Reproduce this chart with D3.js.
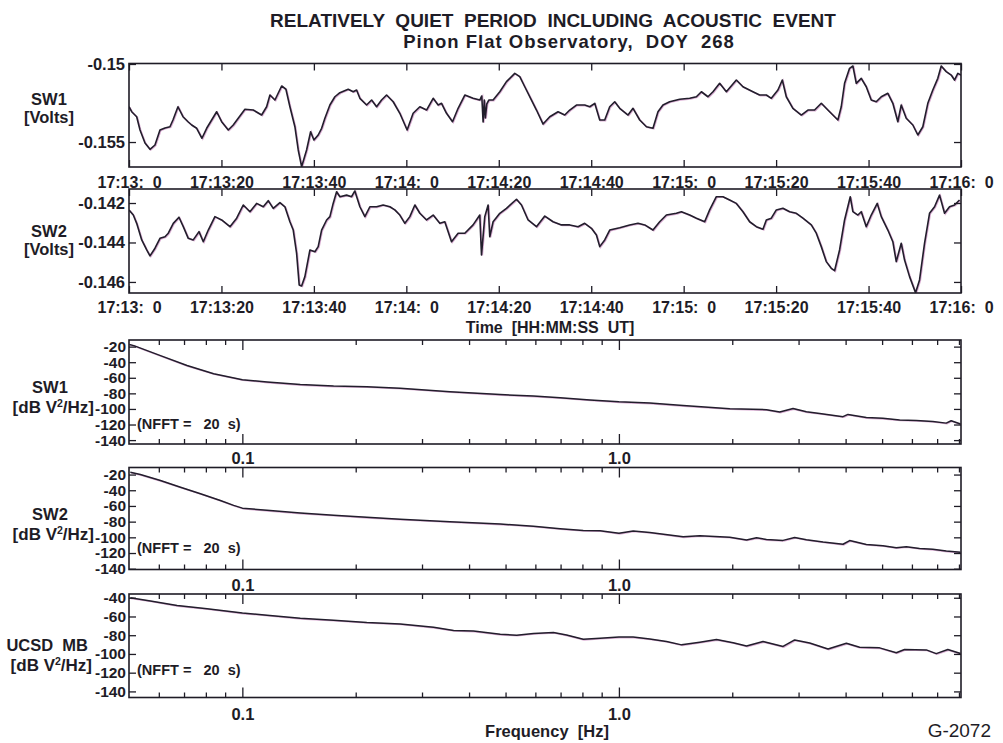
<!DOCTYPE html>
<html>
<head>
<meta charset="utf-8">
<script src="https://cdn.jsdelivr.net/npm/d3@7"></script>
<style>
  body { margin: 0; background: #fff; }
  svg text { font-family: "Liberation Sans", Arial, Helvetica, sans-serif; white-space: pre; }
</style>
</head>
<body>
<svg id="chart" width="1003" height="743"></svg>
<script>
// ---- Time axis (seconds after 17:13:00 UT) ----
const timeTickSec = [0, 20, 40, 60, 80, 100, 120, 140, 160, 180];
const timeTickLabels = ["17:13:  0", "17:13:20", "17:13:40", "17:14:  0", "17:14:20",
                        "17:14:40", "17:15:  0", "17:15:20", "17:15:40", "17:16:  0"];

// ---- SW1 strainmeter output [s, V] ----
const sw1Trace = [
  [0,-0.15274],[0.58,-0.15306],[1.66,-0.15338],[2.38,-0.15423],[3.46,-0.15506],[4.54,-0.15547],
  [5.62,-0.15519],[6.70,-0.15423],[7.78,-0.15410],[8.86,-0.15402],[9.51,-0.15359],[10.59,-0.15274],
  [11.68,-0.15338],[12.76,-0.15370],[13.56,-0.15391],[14.64,-0.15412],[15.78,-0.15476],[16.80,-0.15412],
  [17.88,-0.15359],[18.96,-0.15306],[20.04,-0.15370],[21.47,-0.15423],[22.55,-0.15391],[23.63,-0.15348],
  [25.08,-0.15290],[26.88,-0.15295],[28.69,-0.15327],[29.77,-0.15274],[30.49,-0.15199],[31.57,-0.15231],
  [33.02,-0.15141],[33.95,-0.15162],[34.81,-0.15274],[35.89,-0.15402],[36.61,-0.15551],[37.34,-0.15658],
  [38.42,-0.15551],[39.29,-0.15434],[40.00,-0.15487],[40.93,-0.15455],[41.67,-0.15412],[42.38,-0.15348],
  [43.46,-0.15263],[44.54,-0.15210],[45.62,-0.15184],[47.42,-0.15162],[48.50,-0.15178],[49.23,-0.15167],
  [49.95,-0.15220],[51.40,-0.15263],[52.48,-0.15231],[53.56,-0.15274],[54.64,-0.15231],[55.72,-0.15199],
  [57.15,-0.15242],[58.59,-0.15316],[60.17,-0.15423],[61.47,-0.15316],[62.92,-0.15274],[64.37,-0.15295],
  [65.80,-0.15220],[66.88,-0.15263],[67.61,-0.15252],[68.69,-0.15316],[69.99,-0.15370],[71.20,-0.15284],
  [72.65,-0.15199],[74.44,-0.15220],[75.89,-0.15231],[76.32,-0.15205],[76.61,-0.15372],[76.87,-0.15231],
  [77.09,-0.15346],[77.41,-0.15256],[77.84,-0.15231],[78.77,-0.15231],[80.22,-0.15178],[81.66,-0.15113],
  [83.46,-0.15060],[84.54,-0.15081],[85.62,-0.15146],[87.07,-0.15231],[88.15,-0.15295],[89.58,-0.15385],
  [91.03,-0.15338],[92.82,-0.15306],[94.27,-0.15327],[95.35,-0.15295],[96.80,-0.15263],[98.59,-0.15263],
  [99.68,-0.15274],[100.76,-0.15252],[101.84,-0.15359],[102.92,-0.15359],[104.00,-0.15274],[105.08,-0.15242],
  [106.16,-0.15284],[107.96,-0.15327],[109.04,-0.15284],[110.49,-0.15359],[111.94,-0.15402],[113.36,-0.15412],
  [114.44,-0.15306],[115.52,-0.15263],[116.97,-0.15242],[119.13,-0.15226],[121.30,-0.15220],[122.75,-0.15210],
  [123.83,-0.15178],[125.25,-0.15210],[126.34,-0.15178],[127.78,-0.15124],[129.23,-0.15178],[131.39,-0.15103],
  [132.82,-0.15146],[134.98,-0.15178],[136.43,-0.15199],[137.88,-0.15199],[138.96,-0.15220],[140.39,-0.15167],
  [141.34,-0.15103],[142.20,-0.15210],[143.63,-0.15284],[145.45,-0.15327],[146.88,-0.15295],[148.32,-0.15295],
  [149.77,-0.15252],[151.20,-0.15295],[152.28,-0.15327],[153.36,-0.15359],[154.09,-0.15274],[154.81,-0.15124],
  [155.89,-0.15028],[156.61,-0.15013],[157.34,-0.15124],[158.42,-0.15092],[159.50,-0.15146],[160.58,-0.15231],
  [161.66,-0.15242],[162.75,-0.15210],[164.17,-0.15188],[165.25,-0.15252],[166.33,-0.15370],[167.07,-0.15263],
  [168.15,-0.15348],[169.58,-0.15391],[170.66,-0.15455],[171.74,-0.15402],[172.82,-0.15252],[173.90,-0.15167],
  [174.98,-0.15092],[175.72,-0.15013],[176.80,-0.15049],[177.88,-0.15071],[178.59,-0.15103],[179.31,-0.15060],
  [180,-0.15071]
];

// ---- SW2 strainmeter output [s, V] ----
const sw2Trace = [
  [0,-0.14235],[0.93,-0.14261],[1.66,-0.14303],[2.75,-0.14387],[3.83,-0.14438],[4.54,-0.14468],
  [5.62,-0.14429],[6.70,-0.14379],[7.78,-0.14371],[8.50,-0.14353],[9.58,-0.14303],[10.81,-0.14272],
  [11.74,-0.14320],[12.82,-0.14379],[13.90,-0.14387],[15.14,-0.14345],[16.07,-0.14396],[17.15,-0.14337],
  [18.59,-0.14269],[20.04,-0.14286],[21.84,-0.14320],[23.29,-0.14277],[24.71,-0.14210],[26.16,-0.14244],
  [27.61,-0.14202],[29.04,-0.14219],[30.12,-0.14188],[31.20,-0.14227],[32.65,-0.14198],[33.73,-0.14219],
  [34.81,-0.14295],[35.53,-0.14337],[36.26,-0.14455],[36.82,-0.14615],[37.34,-0.14620],[38.05,-0.14573],
  [39.14,-0.14438],[40.22,-0.14447],[40.93,-0.14421],[41.67,-0.14337],[42.75,-0.14286],[43.46,-0.14269],
  [44.17,-0.14202],[44.91,-0.14143],[45.62,-0.14168],[47.07,-0.14160],[48.15,-0.14168],[48.86,-0.14139],
  [49.95,-0.14219],[51.03,-0.14269],[52.11,-0.14219],[53.56,-0.14219],[54.98,-0.14210],[56.43,-0.14219],
  [57.51,-0.14235],[58.59,-0.14261],[59.68,-0.14303],[60.76,-0.14269],[61.84,-0.14210],[62.92,-0.14252],
  [64.37,-0.14286],[65.80,-0.14261],[67.24,-0.14303],[68.32,-0.14295],[69.77,-0.14396],[71.20,-0.14353],
  [72.65,-0.14353],[74.44,-0.14311],[75.89,-0.14261],[76.26,-0.14463],[76.97,-0.14269],[77.69,-0.14210],
  [78.05,-0.14371],[78.77,-0.14295],[80.22,-0.14252],[81.66,-0.14227],[83.83,-0.14181],[84.91,-0.14210],
  [86.34,-0.14286],[88.15,-0.14320],[89.95,-0.14266],[91.74,-0.14295],[93.56,-0.14311],[95.35,-0.14311],
  [97.15,-0.14320],[98.59,-0.14303],[100.04,-0.14328],[101.12,-0.14362],[101.84,-0.14421],[102.92,-0.14387],
  [104.00,-0.14337],[106.16,-0.14325],[108.32,-0.14311],[110.12,-0.14303],[111.57,-0.14311],[113.36,-0.14337],
  [114.81,-0.14295],[116.26,-0.14261],[118.42,-0.14252],[119.50,-0.14244],[121.30,-0.14261],[122.75,-0.14277],
  [124.54,-0.14295],[125.62,-0.14235],[127.07,-0.14168],[128.50,-0.14168],[129.95,-0.14185],[131.39,-0.14202],
  [132.82,-0.14244],[134.27,-0.14295],[135.72,-0.14320],[137.15,-0.14333],[137.88,-0.14286],[138.96,-0.14277],
  [140.04,-0.14235],[141.47,-0.14227],[142.92,-0.14244],[144.37,-0.14252],[145.80,-0.14277],[147.61,-0.14311],
  [148.69,-0.14353],[149.77,-0.14421],[150.85,-0.14497],[151.93,-0.14531],[152.65,-0.14543],[153.73,-0.14438],
  [154.81,-0.14286],[156.04,-0.14168],[156.61,-0.14244],[157.69,-0.14261],[158.42,-0.14244],[159.50,-0.14320],
  [160.58,-0.14261],[161.88,-0.14202],[162.75,-0.14269],[164.17,-0.14337],[165.25,-0.14396],[165.99,-0.14497],
  [167.07,-0.14404],[167.79,-0.14489],[168.87,-0.14573],[170.17,-0.14655],[171.03,-0.14590],[172.11,-0.14404],
  [173.19,-0.14252],[174.28,-0.14219],[175.36,-0.14160],[176.44,-0.14252],[177.52,-0.14219],[178.60,-0.14210],
  [179.68,-0.14185]
];

const sw1VoltTicks = [-0.15, -0.155];
const sw1VoltLabels = ["-0.15", "-0.155"];
const sw2VoltTicks = [-0.142, -0.144, -0.146];
const sw2VoltLabels = ["-0.142", "-0.144", "-0.146"];

// ---- Power spectra [Hz, dB V^2/Hz], NFFT = 20 s ----
const sw1Spectrum = [
  [0.0501,-17.4],[0.0515,-18.7],[0.0606,-31.5],[0.0713,-44.3],[0.0839,-54.8],[0.100,-62.4],
  [0.1163,-65.4],[0.1425,-68.6],[0.1747,-70.7],[0.214,-71.4],[0.2625,-73.3],[0.356,-77.9],
  [0.484,-81.5],[0.593,-83.5],[0.698,-85.5],[0.838,-88.4],[1.0,-90.8],[1.208,-92.4],
  [1.481,-95.7],[1.970,-99.7],[2.465,-100.9],[2.673,-103.9],[2.900,-99.5],[3.147,-103.7],
  [3.414,-105.8],[3.936,-109.9],[4.057,-107.0],[4.540,-111.1],[5.024,-112.0],[5.565,-114.1],
  [6.163,-114.8],[6.819,-116.0],[7.399,-118.2],[7.628,-115.1],[8.075,-119.4]
];
const sw2Spectrum = [
  [0.0504,-17.0],[0.0536,-20.0],[0.0606,-27.6],[0.0685,-36.1],[0.0774,-44.4],[0.0874,-53.0],
  [0.0948,-59.3],[0.100,-62.8],[0.1163,-65.6],[0.1425,-69.0],[0.1747,-71.8],[0.214,-74.5],
  [0.2625,-76.9],[0.356,-80.0],[0.484,-83.0],[0.593,-85.8],[0.698,-89.0],[0.804,-91.2],
  [0.891,-91.5],[1.0,-94.8],[1.091,-91.8],[1.208,-93.8],[1.481,-99.3],[1.640,-97.9],
  [1.970,-99.8],[2.182,-103.3],[2.319,-100.6],[2.465,-102.8],[2.728,-103.9],[2.929,-100.1],
  [3.147,-103.0],[3.483,-105.9],[3.936,-108.8],[4.100,-104.1],[4.540,-109.1],[5.024,-110.7],
  [5.452,-113.2],[5.797,-111.9],[6.286,-114.1],[6.819,-115.2],[7.399,-117.4],[8.075,-119.0]
];
const ucsdSpectrum = [
  [0.0504,-40.0],[0.0570,-43.4],[0.0671,-48.3],[0.0806,-51.7],[0.100,-56.3],[0.1163,-58.6],
  [0.1425,-62.0],[0.1747,-64.0],[0.214,-66.4],[0.2625,-68.0],[0.322,-71.5],[0.364,-74.9],
  [0.411,-75.6],[0.484,-79.0],[0.535,-80.0],[0.593,-78.1],[0.670,-77.0],[0.726,-79.8],
  [0.804,-84.3],[0.891,-83.2],[1.0,-82.0],[1.091,-82.0],[1.208,-84.0],[1.338,-86.6],
  [1.467,-90.3],[1.640,-87.4],[1.816,-84.6],[2.010,-88.0],[2.182,-91.6],[2.414,-86.8],
  [2.728,-92.0],[2.929,-85.0],[3.211,-88.4],[3.592,-94.8],[4.018,-88.6],[4.358,-92.9],
  [4.923,-93.5],[5.452,-98.7],[5.735,-95.2],[6.551,-95.7],[6.961,-99.7],[7.472,-95.3],
  [8.075,-99.6]
];

const freqMinorTicks = [0.06, 0.07, 0.08, 0.09, 0.2, 0.3, 0.4, 0.5, 0.6, 0.7, 0.8, 0.9,
                        2, 3, 4, 5, 6, 7, 8];
const freqMajorTicks = [0.1, 1.0];
const freqMajorLabels = ["0.1", "1.0"];
const dbTicks20 = [-20, -40, -60, -80, -100, -120, -140];
const dbTicks40 = [-40, -60, -80, -100, -120, -140];

// ---- Drawing ----
const svg = d3.select("#chart");
const INK = "#1e1c26";
const TRACE = "#221e2c";
const TINT = "#b45aa6";
const X0 = 129, X1 = 961;

const timeX = d3.scaleLinear().domain([0, 180]).range([X0, X1]);
const freqX = d3.scaleLog().domain([0.05, 8.1]).range([X0, X1]);

svg.append("rect").attr("width", 1003).attr("height", 743).attr("fill", "#fff");

function addAxis(g, axis, tx, ty, size) {
  const a = g.append("g").attr("transform", `translate(${tx},${ty})`).call(axis);
  a.select(".domain").remove();
  a.attr("font-family", null).attr("font-size", size).attr("font-weight", "bold").attr("color", INK);
  a.selectAll(".tick line").attr("stroke-width", 1.3);
  return a;
}

let clipId = 0;
function drawTrace(g, data, x, y, top, bottom, width) {
  const id = "clip" + (clipId++);
  svg.append("clipPath").attr("id", id).append("rect")
    .attr("x", X0).attr("y", top).attr("width", X1 - X0).attr("height", bottom - top);
  const line = d3.line().x(d => x(d[0])).y(d => y(d[1]));
  const lg = g.append("g").attr("clip-path", `url(#${id})`);
  lg.append("path").datum(data).attr("d", line)
    .attr("fill", "none").attr("stroke", TINT).attr("stroke-width", 1.6).attr("opacity", 0.5)
    .attr("transform", "translate(0.8,0.6)");
  lg.append("path").datum(data).attr("d", line)
    .attr("fill", "none").attr("stroke", TRACE).attr("stroke-width", width)
    .attr("stroke-linejoin", "round");
}

function frame(g, top, bottom) {
  g.append("rect").attr("x", X0).attr("y", top).attr("width", X1 - X0).attr("height", bottom - top)
    .attr("fill", "none").attr("stroke", INK).attr("stroke-width", 1.6);
}

function timePanel(p) {
  const y = d3.scaleLinear().domain(p.domain).range([p.bottom, p.top]);
  const g = svg.append("g");
  drawTrace(g, p.data, timeX, y, p.top, p.bottom, 1.6);
  addAxis(g, d3.axisBottom(timeX).tickValues(timeTickSec).tickSize(-7).tickPadding(p.pad)
    .tickFormat((d, i) => timeTickLabels[i]), 0, p.bottom, 16);
  addAxis(g, d3.axisTop(timeX).tickValues(timeTickSec).tickSize(-7).tickFormat(""), 0, p.top, 16);
  addAxis(g, d3.axisLeft(y).tickValues(p.ticks).tickSize(-7).tickPadding(4)
    .tickFormat((d, i) => p.labels[i]), X0, 0, 16.5);
  addAxis(g, d3.axisRight(y).tickValues(p.ticks).tickSize(-7).tickFormat(""), X1, 0, 16);
  frame(g, p.top, p.bottom);
}

function specPanel(p) {
  const y = d3.scaleLinear().domain(p.domain).range([p.bottom, p.top]);
  const g = svg.append("g");
  drawTrace(g, p.data, freqX, y, p.top, p.bottom, 1.5);
  addAxis(g, d3.axisBottom(freqX).tickValues(freqMinorTicks).tickSize(-5).tickFormat(""), 0, p.bottom, 16);
  addAxis(g, d3.axisTop(freqX).tickValues(freqMinorTicks).tickSize(-5).tickFormat(""), 0, p.top, 16);
  addAxis(g, d3.axisBottom(freqX).tickValues(freqMajorTicks).tickSize(-10).tickPadding(p.pad)
    .tickFormat((d, i) => freqMajorLabels[i]), 0, p.bottom, 16.5);
  addAxis(g, d3.axisTop(freqX).tickValues(freqMajorTicks).tickSize(-10).tickFormat(""), 0, p.top, 16);
  addAxis(g, d3.axisLeft(y).tickValues(p.ticks).tickSize(-7).tickPadding(3)
    .tickFormat(d => String(d)), X0, 0, 15.5);
  addAxis(g, d3.axisRight(y).tickValues(p.ticks).tickSize(-7).tickFormat(""), X1, 0, 15);
  frame(g, p.top, p.bottom);
  g.append("text").attr("x", 137).attr("y", p.nfftY).attr("font-size", 14.5).attr("font-weight", "bold")
    .attr("fill", INK).text("(NFFT =   20  s)");
}

function label(x, y, txt, anchor, size, weight, spacing) {
  return svg.append("text").attr("x", x).attr("y", y).attr("text-anchor", anchor || "middle")
    .attr("font-size", size || 16).attr("font-weight", weight || "bold")
    .attr("letter-spacing", spacing || 0).attr("fill", INK).text(txt);
}
function dbLabel(x, y) {
  const t = svg.append("text").attr("x", x).attr("y", y).attr("text-anchor", "end")
    .attr("font-size", 17).attr("font-weight", "bold").attr("fill", INK);
  t.append("tspan").text("[dB V");
  t.append("tspan").attr("font-size", 10.5).attr("dy", -6.5).text("2");
  t.append("tspan").attr("dy", 6.5).text("/Hz]");
}

// Titles
label(553, 27, "RELATIVELY  QUIET  PERIOD  INCLUDING  ACOUSTIC  EVENT", "middle", 19);
label(569, 48, "Pinon Flat Observatory,  DOY  268", "middle", 18.5, "bold", 1);

// Strain time series
timePanel({ data: sw1Trace, top: 63.5, bottom: 167, domain: [-0.1566, -0.14997],
            ticks: sw1VoltTicks, labels: sw1VoltLabels, pad: 9.5 });
timePanel({ data: sw2Trace, top: 189, bottom: 293, domain: [-0.14656, -0.14129],
            ticks: sw2VoltTicks, labels: sw2VoltLabels, pad: 9 });
label(49, 105, "SW1", "middle", 16.5);
label(49, 123, "[Volts]", "middle", 16.5);
label(49, 237, "SW2", "middle", 16.5);
label(49, 255, "[Volts]", "middle", 16.5);
label(550, 333, "Time  [HH:MM:SS  UT]");

// Spectra
specPanel({ data: sw1Spectrum, top: 340, bottom: 444, domain: [-145, -11.5], ticks: dbTicks20,
            pad: 8, nfftY: 429 });
specPanel({ data: sw2Spectrum, top: 467.5, bottom: 569.5, domain: [-141, -11], ticks: dbTicks20,
            pad: 9.5, nfftY: 553 });
specPanel({ data: ucsdSpectrum, top: 594, bottom: 697.5, domain: [-146.5, -36], ticks: dbTicks40,
            pad: 10.5, nfftY: 675 });
label(50, 393, "SW1", "middle", 16.5);
dbLabel(94, 413);
label(50, 520, "SW2", "middle", 16.5);
dbLabel(94, 540);
label(88, 651, "UCSD  MB", "end", 16.5);
dbLabel(92, 671);

label(547, 737, "Frequency  [Hz]", "middle", 16.5);
label(991, 737, "G-2072", "end", 19, "normal");
</script>
</body>
</html>
